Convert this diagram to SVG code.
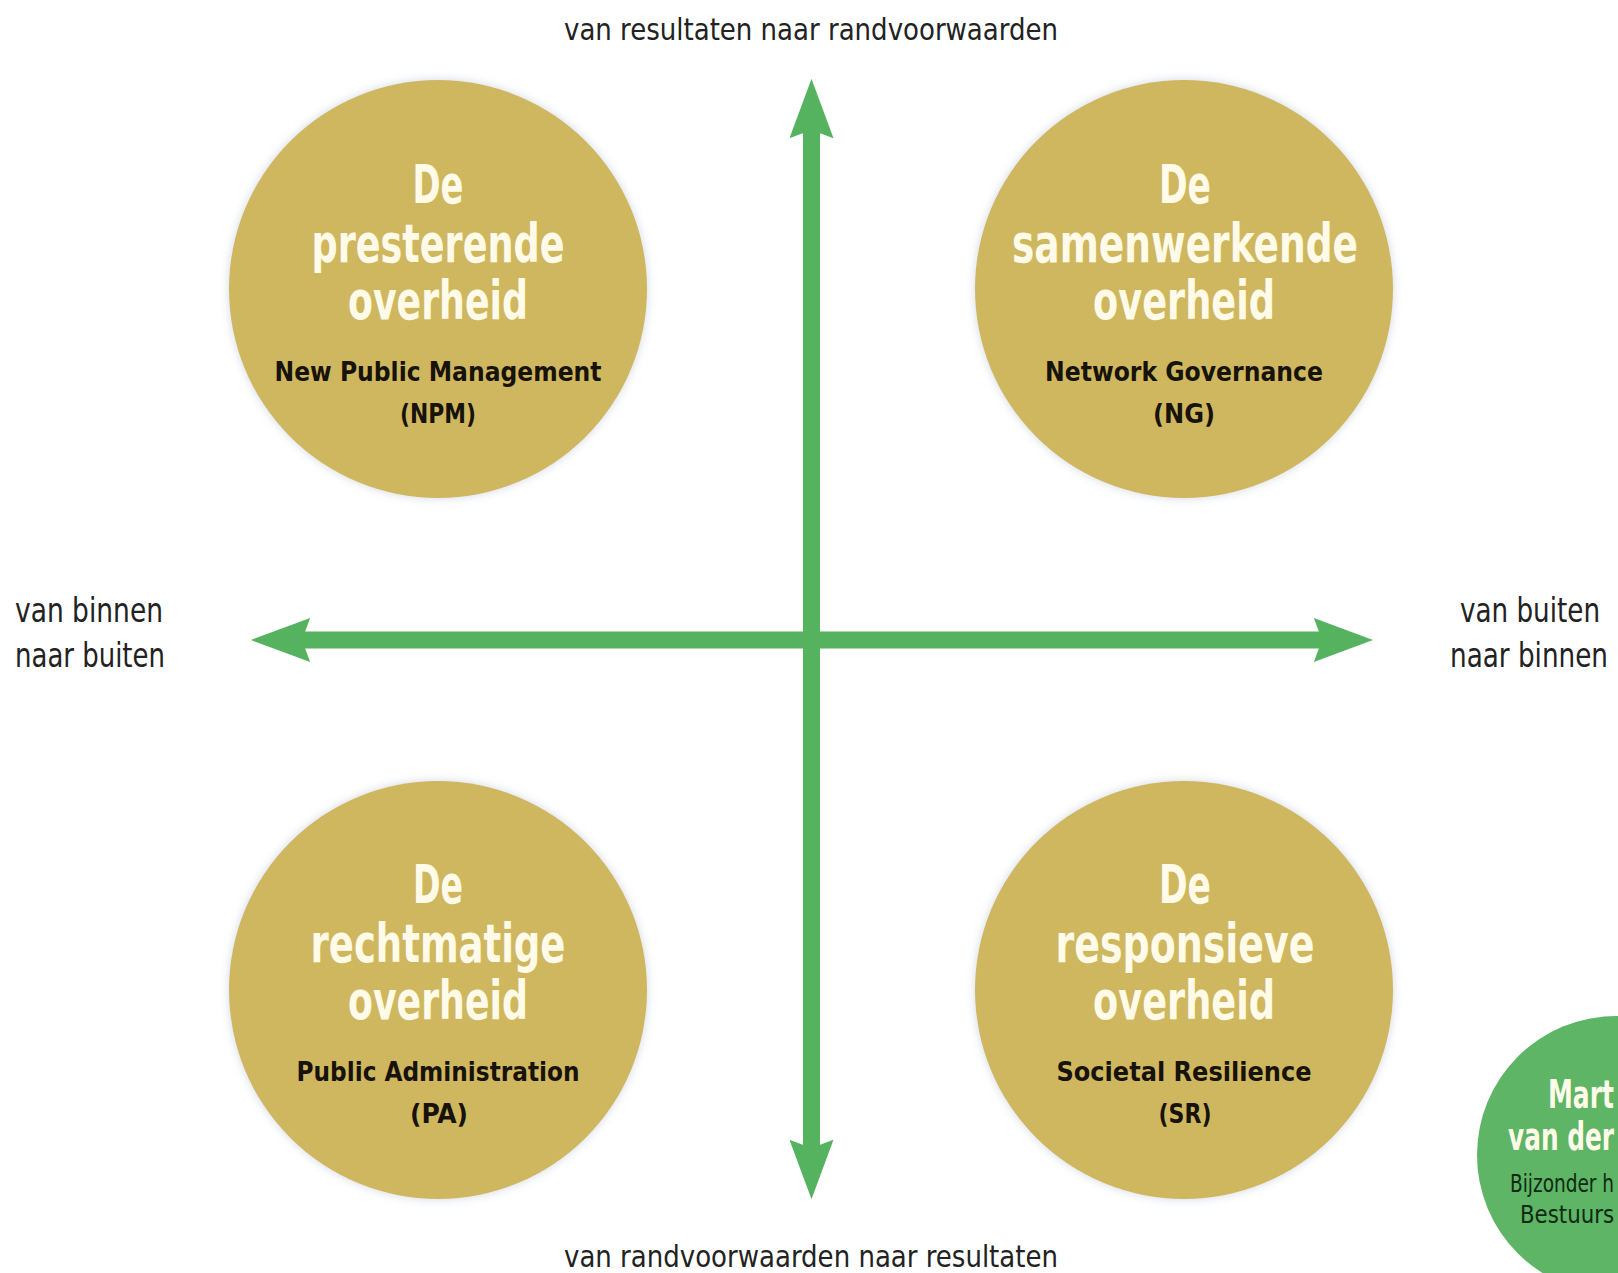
<svg xmlns="http://www.w3.org/2000/svg" width="1618" height="1273" viewBox="0 0 1618 1273">
<style>
.axis{font-family:'Liberation Sans Narrow','DejaVu Sans Condensed','Liberation Sans',sans-serif;font-size:31px;fill:#222;}
.side{font-family:'Liberation Sans Narrow','DejaVu Sans Condensed','Liberation Sans',sans-serif;font-size:33px;fill:#222;}
.title{font-family:'Liberation Sans Narrow','DejaVu Sans Condensed','Liberation Sans',sans-serif;font-size:53px;font-weight:bold;fill:#fffbe8;text-anchor:middle;}
.sub{font-family:'Liberation Sans Narrow','DejaVu Sans Condensed','Liberation Sans',sans-serif;font-size:26px;font-weight:bold;fill:#17120a;text-anchor:middle;}
.gold{fill:#cfb760;filter:url(#sh);}
.green{fill:#5db565;}
.name{font-family:'Liberation Sans Narrow','DejaVu Sans Condensed','Liberation Sans',sans-serif;font-size:39px;font-weight:bold;fill:#fffbe8;}
.aff{font-family:'Liberation Sans Narrow','DejaVu Sans Condensed','Liberation Sans',sans-serif;font-size:25px;fill:#0f2a12;}
.arrow{stroke:#55b25e;stroke-width:17;fill:none;}
</style>
<defs>
<filter id="sh" x="-10%" y="-10%" width="120%" height="120%">
<feDropShadow dx="0" dy="0" stdDeviation="5" flood-color="#9aa6c0" flood-opacity="0.45"/>
</filter>
<marker id="ah" markerUnits="userSpaceOnUse" markerWidth="60" markerHeight="44" viewBox="0 0 58 43" refX="8" refY="21.5" orient="auto-start-reverse">
<path d="M0,0 L58,21.5 L0,43 L8,21.5 Z" fill="#55b25e"/>
</marker>
</defs>
<rect width="1618" height="1273" fill="#ffffff"/>

<g id="axis-labels">
<text class="axis" x="564" y="40" textLength="494" lengthAdjust="spacingAndGlyphs">van resultaten naar randvoorwaarden</text>
<text class="axis" x="564" y="1267" textLength="494" lengthAdjust="spacingAndGlyphs">van randvoorwaarden naar resultaten</text>
<text class="side" x="15" y="622" textLength="148" lengthAdjust="spacingAndGlyphs">van binnen</text>
<text class="side" x="15" y="667" textLength="150" lengthAdjust="spacingAndGlyphs">naar buiten</text>
<text class="side" x="1460" y="622" textLength="140" lengthAdjust="spacingAndGlyphs">van buiten</text>
<text class="side" x="1450" y="667" textLength="158" lengthAdjust="spacingAndGlyphs">naar binnen</text>
</g>

<g id="connectors">
<line class="arrow" x1="811.5" y1="130" x2="811.5" y2="1148" marker-start="url(#ah)" marker-end="url(#ah)"/>
<line class="arrow" x1="302" y1="640" x2="1322" y2="640" marker-start="url(#ah)" marker-end="url(#ah)"/>
</g>

<g id="node-npm">
<circle class="gold" cx="438" cy="289" r="209"/>
<text class="title" x="438" y="203" textLength="51" lengthAdjust="spacingAndGlyphs">De</text>
<text class="title" x="438" y="262" textLength="253" lengthAdjust="spacingAndGlyphs">presterende</text>
<text class="title" x="438" y="319" textLength="180" lengthAdjust="spacingAndGlyphs">overheid</text>
<text class="sub" x="438" y="381" textLength="327" lengthAdjust="spacingAndGlyphs">New Public Management</text>
<text class="sub" x="438" y="423" textLength="76" lengthAdjust="spacingAndGlyphs">(NPM)</text>
</g>

<g id="node-ng">
<circle class="gold" cx="1184" cy="289" r="209"/>
<text class="title" x="1185" y="203" textLength="52" lengthAdjust="spacingAndGlyphs">De</text>
<text class="title" x="1185" y="262" textLength="346" lengthAdjust="spacingAndGlyphs">samenwerkende</text>
<text class="title" x="1184" y="319" textLength="182" lengthAdjust="spacingAndGlyphs">overheid</text>
<text class="sub" x="1184" y="381" textLength="278" lengthAdjust="spacingAndGlyphs">Network Governance</text>
<text class="sub" x="1184" y="423" textLength="62" lengthAdjust="spacingAndGlyphs">(NG)</text>
</g>

<g id="node-pa">
<circle class="gold" cx="438" cy="990" r="209"/>
<text class="title" x="438" y="903" textLength="50" lengthAdjust="spacingAndGlyphs">De</text>
<text class="title" x="438" y="962" textLength="255" lengthAdjust="spacingAndGlyphs">rechtmatige</text>
<text class="title" x="438" y="1019" textLength="180" lengthAdjust="spacingAndGlyphs">overheid</text>
<text class="sub" x="438" y="1081" textLength="283" lengthAdjust="spacingAndGlyphs">Public Administration</text>
<text class="sub" x="439" y="1123" textLength="58" lengthAdjust="spacingAndGlyphs">(PA)</text>
</g>

<g id="node-sr">
<circle class="gold" cx="1184" cy="990" r="209"/>
<text class="title" x="1185" y="903" textLength="52" lengthAdjust="spacingAndGlyphs">De</text>
<text class="title" x="1185" y="962" textLength="259" lengthAdjust="spacingAndGlyphs">responsieve</text>
<text class="title" x="1184" y="1019" textLength="182" lengthAdjust="spacingAndGlyphs">overheid</text>
<text class="sub" x="1184" y="1081" textLength="255" lengthAdjust="spacingAndGlyphs">Societal Resilience</text>
<text class="sub" x="1185" y="1123" textLength="53" lengthAdjust="spacingAndGlyphs">(SR)</text>
</g>

<g id="node-author">
<circle class="green" cx="1616" cy="1155" r="139"/>
<text class="name" x="1548" y="1108" textLength="66" lengthAdjust="spacingAndGlyphs">Mart</text>
<text class="name" x="1508" y="1150" textLength="106" lengthAdjust="spacingAndGlyphs">van der</text>
<text class="aff" x="1510" y="1192" textLength="104" lengthAdjust="spacingAndGlyphs">Bijzonder h</text>
<text class="aff" x="1520" y="1223" textLength="94" lengthAdjust="spacingAndGlyphs">Bestuurs</text>
</g>
</svg>
